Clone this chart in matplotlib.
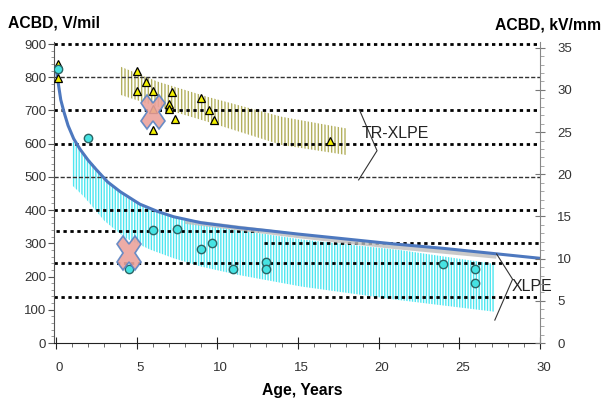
import matplotlib
matplotlib.use("Agg")
from matplotlib import pyplot as plt
from matplotlib.markers import MarkerStyle
from matplotlib.transforms import Affine2D, ScaledTranslation

plt.rcParams['font.family'] = ['Liberation Sans', 'DejaVu Sans']
plt.rcParams['hatch.linewidth'] = 1.0

# fitted curve (V/mil vs age)
curve_x = [0, 0.15, 0.3, 0.5, 0.75, 1.1, 1.5, 2.0, 2.5, 3.2, 4.0, 5.2, 6.3, 7.3,
           9.0, 11.4, 13.0, 15.0, 18.0, 21.0, 24.0, 27.0, 30.0]
curve_v = [830, 780, 732, 695, 655, 615, 583, 550, 522, 485, 455, 418, 396, 380,
           362, 347, 339, 328, 313, 298, 285, 270, 255]
shadow_x = [8.0, 12.0, 15.0, 21.0, 27.3]
shadow_v = [366, 342, 323, 290, 261]

# XLPE scatter band
cyan_x = [1.0, 1.75, 3.0, 4.3, 5.9, 7.3, 9.0, 11.3, 15.2, 21.3, 27.2]
cyan_top = [610, 570, 500, 440, 400, 378, 355, 340, 312, 280, 238]
cyan_bot = [475, 440, 368, 316, 280, 255, 230, 205, 170, 129, 94]

# TR-XLPE scatter band
olive_x = [4.0, 6.3, 9.4, 14.0, 18.0]
olive_top = [832, 787, 741, 681, 646]
olive_bot = [747, 711, 666, 596, 566]

# measurements
tri_x = [0.1, 0.1, 5.05, 5.05, 5.6, 6.0, 6.0, 6.0, 7.0, 7.0, 7.2, 7.4, 9.0, 9.5, 9.8, 17.0]
tri_v = [840, 797, 819, 760, 786, 760, 704, 641, 720, 705, 755, 673, 737, 700, 670, 609]
circ_x = [0.1, 2.0, 4.5, 6.0, 7.5, 9.0, 9.7, 11.0, 13.0, 13.0, 24.0, 26.0, 26.0]
circ_v = [824, 618, 222, 340, 342, 282, 301, 223, 244, 223, 238, 223, 182]
cross_x = [6.0, 4.5]
cross_v = [696, 272]

grid_bold = [900, 700, 600, 400, 240, 138]
grid_thin = [800, 500]

vmil_to_kvmm = 0.03937
bold_ls = (0, (1.2, 1.3))
thin_ls = (0, (3, 1.4))

fig = plt.figure(figsize=(6.01, 3.99), dpi=100)
ax = fig.add_axes([54 / 601, 56 / 399, 486 / 601, 300.6 / 399])

ax.fill_between(cyan_x, cyan_bot, cyan_top, facecolor='none', edgecolor='#4fe6f0',
                hatch='||||||', linewidth=0, zorder=1)
ax.fill_between(olive_x, olive_bot, olive_top, facecolor='none', edgecolor='#b3b05e',
                hatch='|||||', linewidth=0, zorder=1)

for v in grid_bold:
    ax.axhline(v, color='black', lw=2.0, ls=bold_ls, zorder=2)
for v in grid_thin:
    ax.axhline(v, color='#333333', lw=1.0, ls=thin_ls, zorder=2)
ax.hlines(337, 0, 12.5, color='black', lw=2.0, ls=bold_ls, zorder=2)
ax.hlines(300, 12.9, 30, color='black', lw=2.0, ls=bold_ls, zorder=2)

ax.plot(shadow_x, shadow_v, color='#bdbdbd', lw=3.5, alpha=0.8, zorder=3,
        solid_capstyle='butt')
ax.plot(curve_x, curve_v, color='#4d78bf', lw=2.2, zorder=4)

ax.plot(tri_x, tri_v, '^', ms=5.8, mfc='#f2ef00', mec='black', mew=0.9, ls='none', zorder=5)
ax.plot(circ_x, circ_v, 'o', ms=6, mfc='#46e3e3', mec='#2c6464', mew=1.0, ls='none', zorder=5)
xmark = MarkerStyle('X', transform=Affine2D().scale(0.68, 1.0))
ax.plot(cross_x, cross_v, marker=xmark, ms=25, mfc='#eba39c', mec='#5a84c4', mew=1.2,
        ls='none', alpha=0.9, zorder=6)

# bracket annotations
ax.plot([18.8, 19.9, 18.76], [703, 579, 491], color='#333333', lw=0.8, zorder=5)
ax.plot([27.31, 28.3, 27.2], [268, 192, 69], color='#333333', lw=0.8, zorder=5)
ax.text(18.97, 632, 'TR-XLPE', fontsize=11.5, color='#222222', va='center', ha='left', zorder=7)
ax.text(28.24, 169, 'XLPE', fontsize=11.5, color='#222222', va='center', ha='left', zorder=7)

ax.set_xlim(-0.12, 30)
ax.set_ylim(0, 905)
ax.set_xticks([0, 5, 10, 15, 20, 25, 30])
ax.set_xticks(range(0, 31), minor=True)
ax.set_yticks(range(0, 901, 100))
ax.set_yticks(range(0, 901, 20), minor=True)

ax.spines['top'].set_visible(False)
ax.spines['right'].set_visible(False)
ax.spines['left'].set_color('#555555')
ax.spines['bottom'].set_color('#222222')
ax.tick_params(axis='x', which='major', direction='inout', length=8, pad=10,
               labelsize=9.5, labelcolor='#333333', color='#222222')
ax.tick_params(axis='x', which='minor', direction='out', length=3, color='#555555')
ax.tick_params(axis='y', which='major', direction='out', length=4, pad=1.5,
               labelsize=9.5, labelcolor='#333333', color='#555555')
ax.tick_params(axis='y', which='minor', direction='out', length=2, color='#888888')
offset = ScaledTranslation(0.035, 0, fig.dpi_scale_trans)
for lab in ax.get_xticklabels():
    lab.set_transform(lab.get_transform() + offset)

ax2 = ax.twinx()
ax2.set_ylim(0, 905 * vmil_to_kvmm)
ax2.set_yticks(range(0, 36, 5))
ax2.set_yticks(range(0, 36), minor=True)
for s in ['top', 'left', 'bottom']:
    ax2.spines[s].set_visible(False)
ax2.spines['right'].set_color('#888888')
ax2.tick_params(axis='y', which='major', direction='inout', length=7, pad=9,
                labelsize=9.5, labelcolor='#333333', color='#777777')
ax2.tick_params(axis='y', which='minor', direction='out', length=3, color='#999999')

fig.text(8 / 601, 1 - 23 / 399, 'ACBD, V/mil', fontsize=11.3, fontweight='bold',
         ha='left', va='center')
fig.text(495 / 601, 1 - 25 / 399, 'ACBD, kV/mm', fontsize=11.3, fontweight='bold',
         ha='left', va='center')
fig.text(302 / 601, 0.022, 'Age, Years', fontsize=11.3, fontweight='bold',
         ha='center', va='center')

fig.savefig('out.png', dpi=100)
